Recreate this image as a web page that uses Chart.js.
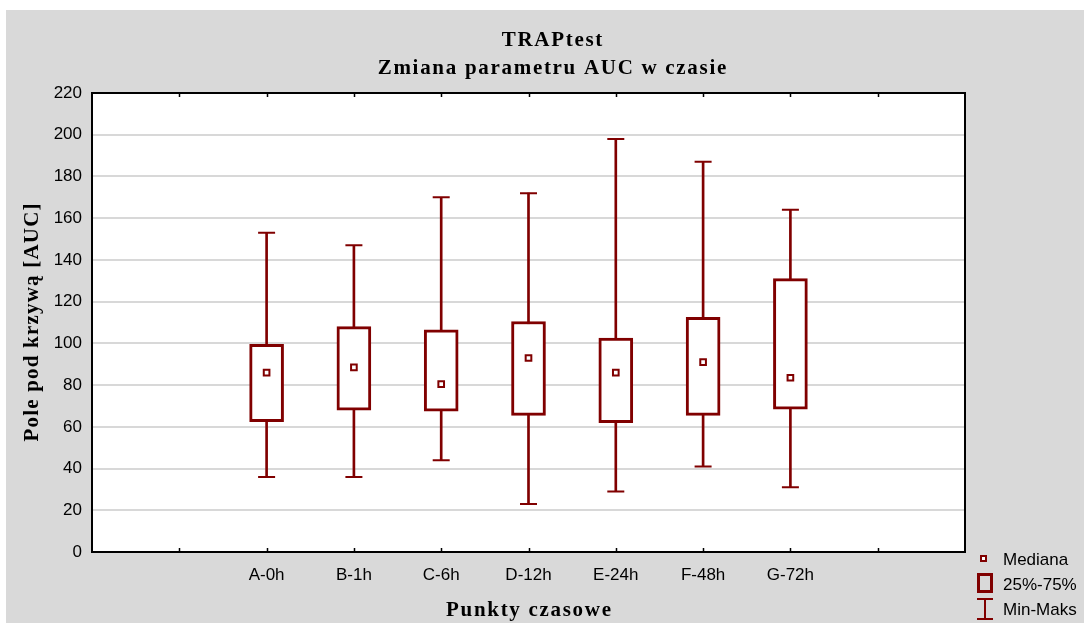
<!DOCTYPE html>
<html>
<head>
<meta charset="utf-8">
<script src="https://cdn.jsdelivr.net/npm/chart.js@4.4.1/dist/chart.umd.min.js"></script>
<style>
  html, body { margin: 0; padding: 0; background: #fff; }
  #wrap { position: absolute; left: 6px; top: 10px; width: 1078px; height: 613px; background: #d9d9d9; }
</style>
</head>
<body>
<div id="wrap"><canvas id="wykres" width="1078" height="613"></canvas></div>
<script>
var kategorie = ['A-0h', 'B-1h', 'C-6h', 'D-12h', 'E-24h', 'F-48h', 'G-72h'];
var minimum   = [36, 36, 44, 23, 29, 41, 31];
var kwartyl25 = [62.5, 68, 67.5, 65.5, 62, 65.5, 68.5];
var mediana   = [86, 88.5, 80.5, 93, 86, 91, 83.5];
var kwartyl75 = [99.5, 108, 106.5, 110.5, 102.5, 112.5, 131];
var maksimum  = [153, 147, 170, 172, 198, 187, 164];
var osYmin = 0, osYmax = 220, osYkrok = 20;

var KOLOR = '#800000';
var SERIF = '"Liberation Serif", "Times New Roman", serif';
var SANS = '"Liberation Sans", Arial, sans-serif';

// dwa puste miejsca po obu stronach osi X
var etykiety = ['', ''].concat(kategorie, ['', '']);
function rozciagnij(arr) {
    return [null, null].concat(arr, [null, null]);
}
var pudelka = rozciagnij(kategorie.map(function (_, i) { return [kwartyl25[i], kwartyl75[i]]; }));
var wasy = rozciagnij(kategorie.map(function (_, i) { return [minimum[i], maksimum[i]]; }));

function napis(ctx, tekst, x, y, font, odstep, obrot) {
    ctx.save();
    ctx.translate(x, y);
    if (obrot) ctx.rotate(obrot);
    ctx.font = font;
    ctx.letterSpacing = odstep + 'px';
    ctx.fillStyle = '#000';
    ctx.textAlign = 'center';
    ctx.textBaseline = 'alphabetic';
    ctx.fillText(tekst, odstep / 2, 0);
    ctx.restore();
}

// białe tło obszaru wykresu
var tlo = {
    id: 'tlo',
    beforeDraw: function (chart) {
        var a = chart.chartArea;
        chart.ctx.save();
        chart.ctx.fillStyle = '#fff';
        chart.ctx.fillRect(a.left, a.top, a.right - a.left, a.bottom - a.top);
        chart.ctx.restore();
    }
};

// ramka obszaru wykresu, znaczniki osi X, tytuły i legenda
var dodatki = {
    id: 'dodatki',
    afterDraw: function (chart) {
        var ctx = chart.ctx, a = chart.chartArea, sx = chart.scales.x;
        ctx.save();
        ctx.strokeStyle = '#000';
        ctx.lineWidth = 2;
        ctx.beginPath();
        ctx.moveTo(a.left, a.top);
        ctx.lineTo(a.right, a.top);
        ctx.lineTo(a.right, a.bottom);
        ctx.stroke();
        ctx.lineWidth = 1.5;
        ctx.beginPath();
        for (var i = 1; i < etykiety.length - 1; i++) {
            var px = Math.round(sx.getPixelForValue(i)) + 0.5;
            ctx.moveTo(px, a.bottom);
            ctx.lineTo(px, a.bottom - 4);
            ctx.moveTo(px, a.top);
            ctx.lineTo(px, a.top + 4);
        }
        ctx.stroke();
        ctx.restore();

        var tf = 'bold 21px ' + SERIF;
        var srodek = 546;
        napis(ctx, 'TRAPtest', srodek, 36, tf, 1.7);
        napis(ctx, 'Zmiana parametru AUC w czasie', srodek, 64, tf, 1.7);
        napis(ctx, 'Punkty czasowe', (a.left + a.right) / 2, 606, tf, 1.7);
        napis(ctx, 'Pole pod krzywą [AUC]', 32, (a.top + a.bottom) / 2, tf, 1.2, -Math.PI / 2);

        // legenda
        ctx.save();
        ctx.strokeStyle = KOLOR;
        ctx.fillStyle = '#fff';
        ctx.lineWidth = 2;
        ctx.fillRect(975, 546, 5, 5);
        ctx.strokeRect(975, 546, 5, 5);
        ctx.lineWidth = 3;
        ctx.strokeRect(972.5, 564.5, 13, 17);
        ctx.lineWidth = 2;
        ctx.beginPath();
        ctx.moveTo(971, 589); ctx.lineTo(987, 589);
        ctx.moveTo(979, 589); ctx.lineTo(979, 609);
        ctx.moveTo(971, 609); ctx.lineTo(987, 609);
        ctx.stroke();
        ctx.font = '17px ' + SANS;
        ctx.fillStyle = '#000';
        ctx.textBaseline = 'middle';
        ctx.textAlign = 'left';
        ctx.fillText('Mediana', 997, 550);
        ctx.fillText('25%-75%', 997, 575);
        ctx.fillText('Min-Maks', 997, 600);
        ctx.restore();
    }
};

new Chart(document.getElementById('wykres'), {
    type: 'bar',
    data: {
        labels: etykiety,
        datasets: [
            {
                label: 'Mediana',
                type: 'line',
                data: rozciagnij(mediana),
                showLine: false,
                pointStyle: 'rect',
                pointRadius: 4,
                borderWidth: 2,
                borderColor: KOLOR,
                backgroundColor: '#fff',
                order: 0
            },
            {
                label: 'Maks',
                type: 'line',
                data: rozciagnij(maksimum),
                showLine: false,
                pointStyle: 'line',
                pointRadius: 8.5,
                borderWidth: 2,
                borderColor: KOLOR,
                order: 0
            },
            {
                label: 'Min',
                type: 'line',
                data: rozciagnij(minimum),
                showLine: false,
                pointStyle: 'line',
                pointRadius: 8.5,
                borderWidth: 2,
                borderColor: KOLOR,
                order: 0
            },
            {
                label: '25%-75%',
                data: pudelka,
                backgroundColor: '#fff',
                borderColor: KOLOR,
                borderWidth: 3,
                borderSkipped: false,
                barThickness: 34,
                grouped: false,
                order: 1
            },
            {
                label: 'Min-Maks',
                data: wasy,
                backgroundColor: KOLOR,
                borderWidth: 0,
                barThickness: 2,
                grouped: false,
                order: 2
            }
        ]
    },
    options: {
        responsive: false,
        animation: false,
        events: [],
        layout: { padding: { top: 83, right: 119, bottom: 0, left: 0 } },
        plugins: {
            legend: { display: false },
            title: { display: false },
            tooltip: { enabled: false }
        },
        scales: {
            x: {
                type: 'category',
                offset: false,
                grid: { display: false },
                border: { display: true, color: '#000', width: 2 },
                ticks: {
                    autoSkip: false,
                    maxRotation: 0,
                    padding: 5,
                    color: '#000',
                    font: { family: SANS, size: 17 }
                },
                afterFit: function (s) { s.height = 71; }
            },
            y: {
                min: osYmin,
                max: osYmax,
                grid: { color: '#d8d8d8', lineWidth: 2, tickLength: 5 },
                border: { display: true, color: '#000', width: 2 },
                ticks: {
                    stepSize: osYkrok,
                    padding: 5,
                    color: '#000',
                    font: { family: SANS, size: 17 }
                },
                afterFit: function (s) { s.width = 86; }
            }
        }
    },
    plugins: [tlo, dodatki]
});
</script>
</body>
</html>
